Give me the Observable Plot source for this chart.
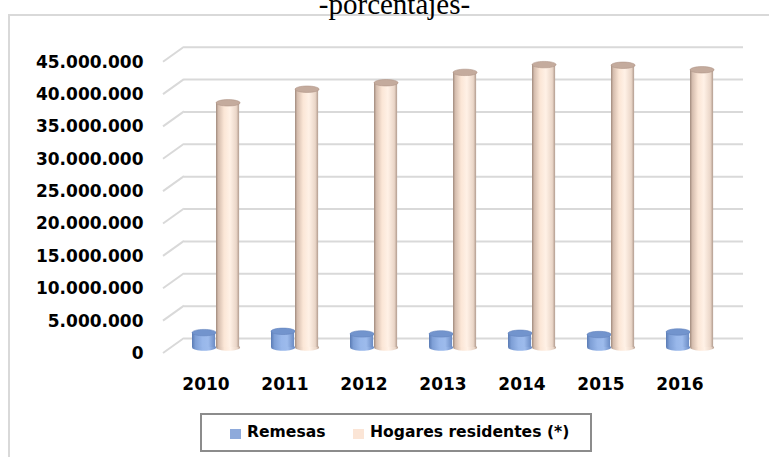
<!DOCTYPE html>
<html>
<head>
<meta charset="utf-8">
<script src="https://cdn.jsdelivr.net/npm/d3@7"></script>
<script src="https://cdn.jsdelivr.net/npm/@observablehq/plot@0.6"></script>
<style>
  html, body { margin: 0; padding: 0; background: #fff; overflow: hidden; }
  #wrap { position: relative; width: 769px; height: 457px; overflow: hidden; }
  #title { position: absolute; left: 10px; top: -10px; width: 769px; text-align: center;
           font-family: "Liberation Serif", "Times New Roman", serif; font-size: 29px; line-height: 29px; color: #000; }
  #frame { position: absolute; left: 8px; top: 14px; width: 800px; height: 500px;
           border-left: 2px solid #d9d9d9; border-top: 2px solid #d9d9d9; }
  #chart { position: absolute; left: 0; top: 0; }
  #legend { position: absolute; left: 200px; top: 413px; width: 388px; height: 35px;
            border: 2px solid #8c8c8c; font-family: "DejaVu Sans", sans-serif; font-weight: bold;
            font-size: 15.6px; color: #000; }
  .sw { position: absolute; width: 11px; height: 10px; top: 14px; }
  .lt { position: absolute; top: 8px; white-space: nowrap; }
</style>
</head>
<body>
<div id="wrap">
  <div id="frame"></div>
  <div id="title">-porcentajes-</div>
  <div id="chart"></div>
  <div id="legend"></div>
</div>
<script>
const years = ["2010", "2011", "2012", "2013", "2014", "2015", "2016"];
const remesas = [2.3e6, 2.5e6, 2.1e6, 2.1e6, 2.2e6, 2.0e6, 2.4e6];
const hogares = [37.8e6, 39.9e6, 40.9e6, 42.5e6, 43.7e6, 43.6e6, 42.9e6];
const yTicks = [0, 5e6, 10e6, 15e6, 20e6, 25e6, 30e6, 35e6, 40e6, 45e6];
const seriesNames = ["Remesas", "Hogares residentes (*)"];
const seriesColors = ["#8eaadb", "#fbe5d6"];

const rows = years.map((year, i) => ({year, remesas: remesas[i], hogares: hogares[i]}));

const loc = d3.formatLocale({decimal: ",", thousands: ".", grouping: [3], currency: ["", ""]});
const fmt = loc.format(",.0f");

const NS = "http://www.w3.org/2000/svg";
function defsMark() {
  const defs = document.createElementNS(NS, "defs");
  const mk = (id, stops) => {
    const g = document.createElementNS(NS, "linearGradient");
    g.setAttribute("id", id);
    g.setAttribute("x1", "0"); g.setAttribute("x2", "1"); g.setAttribute("y1", "0"); g.setAttribute("y2", "0");
    for (const [o, c] of stops) {
      const s = document.createElementNS(NS, "stop");
      s.setAttribute("offset", o); s.setAttribute("stop-color", c);
      g.appendChild(s);
    }
    defs.appendChild(g);
  };
  mk("gBeige", [["0", "#a08a7d"], ["0.1", "#d5bdae"], ["0.35", "#fbe6d6"], ["0.6", "#fff1e6"], ["0.88", "#ead6c8"], ["1", "#b29c8f"]]);
  mk("gBlue", [["0", "#5a7bb4"], ["0.15", "#7e9fd6"], ["0.45", "#98b7ea"], ["0.7", "#9dbbec"], ["1", "#6a8bc4"]]);
  const g = document.createElementNS(NS, "g");
  g.appendChild(defs);
  return g;
}

function ellipse(ry) {
  return {
    draw(ctx, size) {
      const rx = Math.sqrt(size / Math.PI);
      const k = 0.5523;
      ctx.moveTo(-rx, 0);
      ctx.bezierCurveTo(-rx, -ry * k, -rx * k, -ry, 0, -ry);
      ctx.bezierCurveTo(rx * k, -ry, rx, -ry * k, rx, 0);
      ctx.bezierCurveTo(rx, ry * k, rx * k, ry, 0, ry);
      ctx.bezierCurveTo(-rx * k, ry, -rx, ry * k, -rx, 0);
      ctx.closePath();
    }
  };
}

const BACK_DX = 21, BACK_DY = -15, BAR_DY = -6;

function sideWall(index, scales, values, dims) {
  const g = document.createElementNS(NS, "g");
  for (const t of yTicks) {
    const y = scales.y(t);
    const l = document.createElementNS(NS, "line");
    l.setAttribute("x1", dims.marginLeft);
    l.setAttribute("x2", dims.marginLeft + BACK_DX);
    l.setAttribute("y1", y);
    l.setAttribute("y2", y + BACK_DY);
    l.setAttribute("stroke", "#d9d9d9");
    l.setAttribute("stroke-width", 2);
    g.appendChild(l);
  }
  return g;
}

const blue = {insetLeft: 26, insetRight: 29.9};
const beige = {insetLeft: 50, insetRight: 5.9};

const plot = Plot.plot({
  width: 769,
  height: 457,
  marginLeft: 163,
  marginRight: 47,
  marginTop: 61.7,
  marginBottom: 104,
  style: {background: "transparent", fontFamily: "DejaVu Sans, sans-serif", fontWeight: "bold", fontSize: "17px", color: "#000", overflow: "visible"},
  x: {domain: years, padding: 0, label: null, tickSize: 0, tickPadding: 24},
  y: {domain: [0, 45e6], ticks: yTicks, tickFormat: fmt, tickSize: 0, tickPadding: 20, label: null},
  marks: [
    defsMark,
    Plot.ruleY(yTicks, {dx: BACK_DX, dy: BACK_DY, stroke: "#d9d9d9", strokeWidth: 2}),
    sideWall,
    // Remesas cylinders
    Plot.dot(rows, {x: "year", y: () => 0, dx: -1.9, dy: BAR_DY, r: 12, symbol: ellipse(3.2), fill: "url(#gBlue)", stroke: "none"}),
    Plot.barY(rows, {x: "year", y: "remesas", ...blue, dy: BAR_DY, fill: "url(#gBlue)"}),
    Plot.dot(rows, {x: "year", y: "remesas", dx: -1.9, dy: BAR_DY, r: 12, symbol: ellipse(3.2), fill: "#7294cd", stroke: "#6584bd", strokeWidth: 0.6}),
    // Hogares cylinders
    Plot.dot(rows, {x: "year", y: () => 0, dx: 22.1, dy: BAR_DY, r: 12, symbol: ellipse(3.2), fill: "url(#gBeige)", stroke: "none"}),
    Plot.barY(rows, {x: "year", y: "hogares", ...beige, dy: BAR_DY, fill: "url(#gBeige)"}),
    Plot.dot(rows, {x: "year", y: "hogares", dx: 22.1, dy: BAR_DY, r: 12, symbol: ellipse(3.2), fill: "#c4ab9d", stroke: "#b09688", strokeWidth: 0.6})
  ]
});
document.getElementById("chart").appendChild(plot);

// Legend
const legend = document.getElementById("legend");
const legendPos = [[28, 45], [151, 168]];
seriesNames.forEach((name, i) => {
  const sw = document.createElement("div");
  sw.className = "sw";
  sw.style.left = legendPos[i][0] + "px";
  sw.style.background = seriesColors[i];
  legend.appendChild(sw);
  const t = document.createElement("div");
  t.className = "lt";
  t.style.left = legendPos[i][1] + "px";
  t.textContent = name;
  legend.appendChild(t);
});
</script>
</body>
</html>
